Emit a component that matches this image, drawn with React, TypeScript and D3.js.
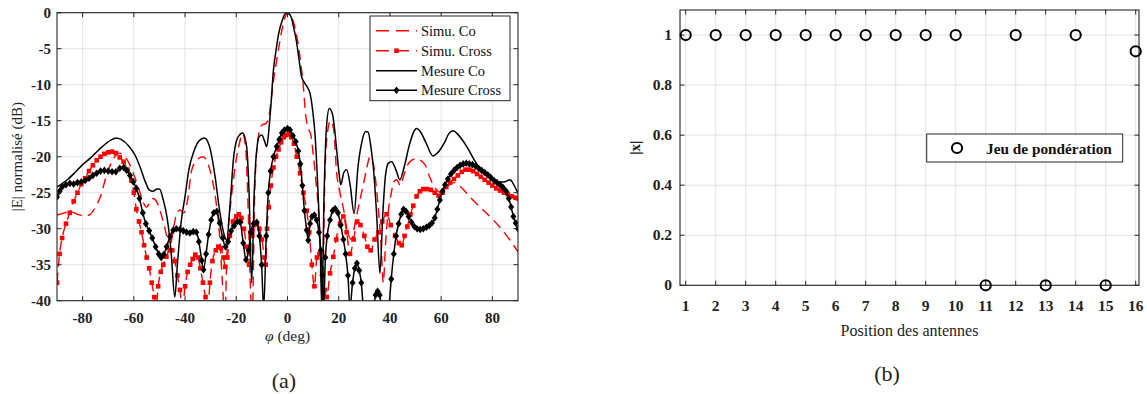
import React from 'react';
import * as d3 from 'd3';

// ---------- Data : panel (a) ----------
const phiTicks = [-80, -60, -40, -20, 0, 20, 40, 60, 80];
const dbTicks = [0, -5, -10, -15, -20, -25, -30, -35, -40];
const legendLabels = ['Simu. Co', 'Simu. Cross', 'Mesure Co', 'Mesure Cross'];

const simuCo: [number, number][] = [
  [-90, -28.1], [-87, -27.8], [-85, -27.6], [-82, -28], [-79, -28.2], [-77, -28], [-75, -27], [-73, -25.5],
  [-71, -23], [-69, -21], [-67, -19.8], [-65.5, -19.5], [-64, -19.8], [-62, -20.8], [-60, -22.5], [-58, -24.5],
  [-56.5, -26.2], [-55, -27], [-53.5, -26.2], [-52.5, -25.8], [-51, -26.3], [-49.5, -27.8], [-47.5, -30.5],
  [-46, -33], [-45, -31], [-43.5, -28.2], [-42, -27.4], [-40.5, -27.8], [-39, -26], [-37.5, -22], [-35.5, -20.5],
  [-33, -20], [-31, -21], [-29.5, -23], [-28, -26], [-26.5, -31], [-25.5, -37], [-24.5, -42], [-23.5, -32],
  [-22, -26], [-20.5, -21.5], [-19, -18.5], [-17.5, -16.8], [-16.3, -19], [-15.3, -28], [-14.5, -38], [-13.8, -43],
  [-12.8, -25], [-11.5, -17.5], [-10, -15.6], [-8.5, -15.4], [-7.5, -14.8], [-6.5, -12.5], [-5.5, -9.5],
  [-4.2, -6.6], [-3, -4], [-1.5, -1.3], [0.3, 0], [1.5, -0.5], [3, -2.2], [4.2, -4.5], [5.2, -7], [6.2, -10.3],
  [7, -13.9], [8, -16], [9, -16.8], [10, -19.5], [11, -23], [12, -27], [13, -34], [13.7, -43], [14.5, -24],
  [15.5, -17], [16.8, -15], [18, -16.2], [19.2, -22.3], [20.5, -25], [22, -27.5], [23.5, -30.5], [25, -31.5],
  [26.5, -29], [28.3, -26], [30, -23.2], [31, -21.5], [32.2, -20], [33.5, -21], [34.8, -24.6], [35.5, -27.4],
  [36.5, -32], [37.4, -37.5], [38.3, -32], [39.2, -28], [40.3, -25.5], [41.5, -23.5], [42.7, -23.2], [44, -24],
  [45.5, -22.5], [47.5, -20.8], [50, -20.3], [52, -20.5], [54, -21.3], [55.5, -22.8], [57, -24], [58.5, -24.7],
  [60, -25], [61.5, -24.5], [63.5, -23.8], [65.5, -23.6], [68, -24.3], [71.3, -25.6], [75.2, -27], [80.4, -28.8],
  [86.9, -31.6], [90, -33.2],
];

const simuCross: [number, number][] = [
  [-90, -37.5], [-89, -33.5], [-88, -31.3], [-86.5, -29.3], [-85, -27.8], [-83.5, -26.2], [-82, -25], [-80.5, -23.8],
  [-79, -23], [-77.5, -22], [-76, -21.2], [-74.5, -20.5], [-73, -20], [-71.5, -19.6], [-70, -19.4], [-68.5, -19.3],
  [-67, -19.5], [-65.5, -20.1], [-64, -20.7], [-62.5, -21.8], [-61, -23.3], [-60, -25], [-59, -27.3], [-58, -29],
  [-57, -30.5], [-56, -32.3], [-55, -34], [-54, -35.5], [-53, -37.5], [-52, -39.5], [-51.3, -41], [-50.5, -38],
  [-49.5, -36], [-48.5, -35], [-47.3, -33.9], [-46, -33], [-45, -33], [-44, -34.5], [-43, -36.5], [-42, -38.5],
  [-41, -41], [-40, -38], [-39, -36], [-38, -35], [-37, -34.2], [-36, -33.6], [-35, -34], [-34, -35.5], [-33, -37.5],
  [-32, -39.5], [-31, -41], [-30.3, -37.5], [-29.3, -34.5], [-28, -33], [-27, -32.5], [-26, -32.7], [-25, -34],
  [-24.3, -35.3], [-23.5, -34], [-22.5, -31], [-21.3, -29], [-20, -28.3], [-19, -28], [-18, -28.5], [-17, -30],
  [-16, -32.5], [-15, -35], [-14, -31], [-13, -29.5], [-12, -29.3], [-11, -30], [-10, -31.5], [-9, -34], [-8.5, -35],
  [-8, -30], [-7.3, -27], [-6.5, -24], [-5.5, -21.5], [-4.5, -20], [-3.5, -19], [-2.5, -18], [-1.5, -17.3],
  [-0.5, -17], [0.5, -16.9], [1.5, -17.3], [2.5, -18.2], [3.6, -20], [4.9, -22.3], [6.2, -25], [7.5, -27.5],
  [8.5, -30.5], [9.5, -35], [10.5, -38], [11.5, -34], [12.5, -33.5], [13.5, -36], [14.5, -38.5], [15.3, -39.5],
  [16.6, -36.2], [17.9, -33.9], [19, -31.5], [20.5, -29.3], [21.8, -28.3], [23.1, -30.5], [24.4, -33.5],
  [25.8, -31.5], [27.2, -29], [28.5, -29.5], [30, -31], [31.2, -32.5], [32.5, -33], [34, -31.5], [35.5, -30.5],
  [37, -29], [38.7, -28], [40.3, -29.5], [42, -31], [43.5, -32], [44.6, -32.3], [45.7, -31], [46.8, -29.7],
  [48, -28], [49.1, -26.8], [50.4, -25.5], [51.7, -24.8], [53, -24.5], [54.5, -24.5], [56, -24.6], [57.5, -25],
  [59, -25.4], [60.5, -25], [62, -24.2], [63.5, -23.6], [65, -23.1], [66.5, -22.6], [68, -22.1], [69.5, -21.8],
  [71, -21.8], [72.5, -22], [74, -22.4], [75.5, -22.8], [77, -23.2], [78.5, -23.6], [80, -24], [81.5, -24.4],
  [83, -24.7], [84.5, -25], [86, -25.2], [87.5, -25.5], [89, -25.7], [90, -25.8],
];

const mesureCo: [number, number][] = [
  [-90, -24.2], [-86, -23.2], [-83, -22.2], [-80, -21.1], [-77, -20.2], [-75, -19.5], [-72, -18.5], [-69, -17.7],
  [-67, -17.4], [-65, -17.6], [-62, -18.5], [-59.5, -19.8], [-57.5, -21.5], [-55.5, -23.5], [-54, -24.6],
  [-52.5, -24.8], [-51, -24.5], [-50, -24.5], [-48.5, -26], [-47, -28.5], [-45.5, -33], [-44, -39.5], [-43, -35],
  [-41.5, -29], [-40, -25.5], [-38.5, -21.8], [-36.5, -19.2], [-34.5, -17.8], [-32.5, -17.4], [-30.5, -18.5],
  [-28.3, -22.7], [-26.5, -27.5], [-25, -30.5], [-23.7, -31.6], [-22.5, -27], [-21, -20], [-19.5, -17.4],
  [-17.5, -16.7], [-16, -18.5], [-15, -25], [-14, -37.5], [-13, -25], [-12, -19], [-11, -17.2], [-10, -17],
  [-9, -17.8], [-8.1, -18.6], [-7.2, -16], [-6.5, -13], [-5.5, -8], [-4.5, -5.3], [-3.5, -3], [-2, -1], [-0.5, 0],
  [1, -0.3], [2.5, -2.2], [3.6, -4.2], [4.5, -6.5], [5.5, -8.9], [6.8, -9.8], [8, -10.5], [8.8, -11.2],
  [9.8, -13.5], [10.7, -16.7], [11.8, -24], [12.8, -33], [13.4, -41], [14.3, -25], [15.2, -16], [16.3, -13.3],
  [17.5, -14], [18.5, -16.5], [19.2, -19.1], [20.2, -22.5], [20.8, -23.9], [22, -22.2], [23.1, -21.8], [24.5, -24],
  [26, -27.9], [27.5, -21.5], [29, -18], [30.5, -16.5], [31.5, -16.6], [32.5, -18.5], [33.5, -21.4], [34.8, -28],
  [36.1, -36.2], [37.2, -28], [38.3, -22.5], [39.4, -20.9], [40.7, -20.7], [42.3, -21.8], [43.9, -23.2],
  [45.5, -21.5], [47.5, -18.5], [49, -16.8], [50.4, -16.1], [52, -16.6], [54, -18], [56.8, -19.9], [58.5, -19.5],
  [61.5, -17.9], [63, -16.8], [64.7, -16.4], [66.5, -16.9], [70, -18.6], [73, -20.5], [76.5, -22.3], [79, -23],
  [81.7, -23.5], [84.5, -23.5], [86.9, -23.2], [88.5, -24], [90, -25.1],
];

const mesureCross: [number, number][] = [
  [-90, -25.6], [-89, -24.8], [-88, -24.2], [-86.5, -23.9], [-85, -23.7], [-83.5, -23.8], [-82, -23.6],
  [-80.5, -23.5], [-79, -23.3], [-77.5, -23], [-76, -22.6], [-74.5, -22.3], [-73, -22], [-71.5, -21.9], [-70, -22],
  [-68.5, -22.1], [-67, -22.1], [-65.5, -21.6], [-64, -21.5], [-62.8, -21.9], [-61.5, -22.6], [-60.2, -23.5],
  [-59, -24.4], [-57.8, -25.8], [-56.5, -27.8], [-55.3, -29.3], [-54, -30.3], [-52.8, -31.3], [-51.5, -32.5],
  [-50.3, -33.5], [-49.3, -34], [-48.3, -33.6], [-47.2, -32.5], [-45.9, -31.1], [-44.6, -30.2], [-43.4, -30],
  [-42, -30.1], [-40.7, -30.3], [-39.4, -30.5], [-38.1, -30.6], [-36.8, -30.4], [-35.6, -30.5], [-34.6, -31.8],
  [-33.5, -34.4], [-32.8, -35.7], [-31.8, -33.5], [-30.8, -30.8], [-29.8, -28.8], [-28.8, -27.8], [-27.6, -27.6],
  [-26.5, -29.2], [-25.3, -31.3], [-24.2, -32.5], [-23.2, -31.8], [-22, -30.3], [-20.8, -29.6], [-19.6, -29],
  [-18.5, -29.1], [-17.3, -32], [-16.2, -34.3], [-15.2, -33], [-14.3, -30.5], [-13.2, -29.3], [-12, -29.1],
  [-11, -31], [-10.1, -35], [-9.3, -41], [-8.3, -31], [-7.5, -25], [-6.6, -22], [-5.5, -20], [-4.2, -18.6],
  [-3.2, -17.6], [-2.2, -16.7], [-1.2, -16.3], [0, -16.1], [1, -16.3], [2.1, -17.1], [3.2, -17.9], [4.2, -19.2],
  [5, -21], [5.8, -24], [6.6, -27.5], [7.5, -30.2], [8.1, -31.6], [8.8, -29.3], [9.6, -28.3], [10.5, -28.1],
  [11.4, -28.8], [12.3, -30.5], [13, -33], [13.6, -36.5], [14.1, -41], [14.8, -34], [15.5, -31], [16.6, -28.8],
  [17.6, -27.5], [18.6, -27.2], [19.7, -27.8], [20.8, -29.5], [21.8, -31.5], [22.7, -33.5], [23.6, -36.5],
  [24.4, -41], [25.4, -37.5], [26.3, -35.5], [27.1, -34.8], [28, -35.8], [28.8, -37.5], [29.6, -41], [31.5, -46],
  [33.6, -41], [34.4, -39.2], [35.2, -38.7], [36, -39.2], [36.7, -41], [38.2, -46], [39.6, -41], [40.5, -37],
  [41.5, -33.5], [42.4, -31], [43.4, -29.3], [44.4, -28], [45.3, -27.3], [46.3, -27.6], [47.3, -28.3],
  [48.4, -29.1], [49.5, -29.7], [50.6, -30], [51.8, -30.1], [53, -30], [54.2, -29.8], [55.3, -29.6], [56.4, -29.2],
  [57.5, -28.5], [58.5, -27.3], [59.5, -26], [60.5, -24.8], [61.5, -23.9], [62.6, -23.1], [63.8, -22.4],
  [65, -21.9], [66.2, -21.5], [67.4, -21.2], [68.6, -21], [69.8, -20.9], [71, -21], [72.2, -21.1], [73.4, -21.3],
  [74.6, -21.6], [75.8, -21.9], [77, -22.2], [78.2, -22.5], [79.4, -22.9], [80.6, -23.3], [81.8, -23.6],
  [83, -23.9], [84.2, -24.3], [85.4, -24.8], [86.4, -25.8], [87.3, -27], [88.2, -28.3], [89.1, -29.2], [90, -30],
];

// ---------- Data : panel (b) ----------
const positions = [1, 2, 3, 4, 5, 6, 7, 8, 9, 10, 11, 12, 13, 14, 15, 16];
const weights = [1, 1, 1, 1, 1, 1, 1, 1, 1, 1, 0, 1, 0, 1, 0, 0.935];
const weightTicks = [0, 0.2, 0.4, 0.6, 0.8, 1];
const weightLegend = 'Jeu de pondération';

const SERIF = '"Liberation Serif", "Times New Roman", serif';
const AX = '#262626';
const GRID = '#e3e3e3';
const RED = '#ff0000';

const diamond = 'M0,-3.8L3,0L0,3.8L-3,0Z';

function PanelA() {
  const x = d3.scaleLinear().domain([-90, 90]).range([57, 518]);
  const y = d3.scaleLinear().domain([-40, 0]).range([300.7, 12.7]);
  const [x0, x1] = x.range();
  const [y0, y1] = y.range();
  const line = d3
    .line<[number, number]>()
    .x((d) => x(d[0]))
    .y((d) => y(d[1]))
    .curve(d3.curveMonotoneX);
  const inRange = (d: [number, number]) => d[1] >= -40 && d[1] <= 0;
  const lx0 = 376;
  const lx1 = 417;
  const ly = [30.7, 50.7, 70.7, 90.2];
  return (
    <g>
      <defs>
        <clipPath id="clipA">
          <rect x={x0} y={y1} width={x1 - x0} height={y0 - y1} />
        </clipPath>
      </defs>
      <rect x={x0} y={y1} width={x1 - x0} height={y0 - y1} fill="#fff" />
      {phiTicks.map((t) => (
        <line key={'gx' + t} x1={x(t)} x2={x(t)} y1={y1} y2={y0} stroke={GRID} strokeWidth={1} />
      ))}
      {dbTicks.map((t) => (
        <line key={'gy' + t} x1={x0} x2={x1} y1={y(t)} y2={y(t)} stroke={GRID} strokeWidth={1} />
      ))}
      <g clipPath="url(#clipA)">
        <path d={line(simuCo) || ''} fill="none" stroke={RED} strokeWidth={1.4} strokeDasharray="10,6" />
        <path d={line(simuCross) || ''} fill="none" stroke={RED} strokeWidth={1.4} strokeDasharray="10,6" />
        {simuCross.filter(inRange).map((d, i) => (
          <rect key={'sq' + i} x={x(d[0]) - 2.3} y={y(d[1]) - 2.3} width={4.6} height={4.6} fill={RED} />
        ))}
        <path d={line(mesureCo) || ''} fill="none" stroke="#000" strokeWidth={1.5} />
        <path d={line(mesureCross) || ''} fill="none" stroke="#000" strokeWidth={1.5} />
        {mesureCross.filter(inRange).map((d, i) => (
          <path key={'dm' + i} d={diamond} transform={`translate(${x(d[0])},${y(d[1])})`} fill="#000" />
        ))}
      </g>
      {/* axes box */}
      <rect x={x0} y={y1} width={x1 - x0} height={y0 - y1} fill="none" stroke={AX} strokeWidth={1.1} />
      {phiTicks.map((t) => (
        <g key={'tx' + t}>
          <line x1={x(t)} x2={x(t)} y1={y0} y2={y0 - 4.5} stroke={AX} />
          <line x1={x(t)} x2={x(t)} y1={y1} y2={y1 + 4.5} stroke={AX} />
          <text x={x(t)} y={y0 + 22} textAnchor="middle" fontFamily={SERIF} fontWeight="bold" fontSize={15} fill="#222">
            {String(t)}
          </text>
        </g>
      ))}
      {dbTicks.map((t) => (
        <g key={'ty' + t}>
          <line x1={x0} x2={x0 + 4.5} y1={y(t)} y2={y(t)} stroke={AX} />
          <line x1={x1} x2={x1 - 4.5} y1={y(t)} y2={y(t)} stroke={AX} />
          <text x={x0 - 6} y={y(t) + 5} textAnchor="end" fontFamily={SERIF} fontWeight="bold" fontSize={15} fill="#222">
            {String(t)}
          </text>
        </g>
      ))}
      <text x={(x0 + x1) / 2} y={341} textAnchor="middle" fontFamily={SERIF} fontSize={15.5} fill="#222">
        <tspan fontStyle="italic">φ</tspan> (deg)
      </text>
      <text transform={`translate(22,${(y0 + y1) / 2}) rotate(-90)`} textAnchor="middle" fontFamily={SERIF} fontSize={15} fill="#222">
        |E| normalisé (dB)
      </text>
      <text x={284} y={388} textAnchor="middle" fontFamily={SERIF} fontSize={22} fill="#222">
        (a)
      </text>
      {/* legend */}
      <rect x={370} y={16} width={140} height={84.7} fill="#fff" stroke={AX} strokeWidth={1} />
      <line x1={lx0} x2={lx1} y1={ly[0]} y2={ly[0]} stroke={RED} strokeWidth={1.4} strokeDasharray="13,7" />
      <line x1={lx0} x2={lx1} y1={ly[1]} y2={ly[1]} stroke={RED} strokeWidth={1.4} strokeDasharray="13,7" />
      <rect x={(lx0 + lx1) / 2 - 2.3} y={ly[1] - 2.3} width={4.6} height={4.6} fill={RED} />
      <line x1={lx0} x2={lx1} y1={ly[2]} y2={ly[2]} stroke="#000" strokeWidth={1.5} />
      <line x1={lx0} x2={lx1} y1={ly[3]} y2={ly[3]} stroke="#000" strokeWidth={1.5} />
      <path d={diamond} transform={`translate(${(lx0 + lx1) / 2},${ly[3]})`} fill="#000" />
      {legendLabels.map((s, i) => (
        <text key={s} x={421} y={ly[i] + 5} fontFamily={SERIF} fontSize={14.5} fill="#111">
          {s}
        </text>
      ))}
    </g>
  );
}

function PanelB() {
  const x = d3.scaleLinear().domain([0.81, 16.11]).range([680, 1139]);
  const y = d3.scaleLinear().domain([0, 1.1]).range([285.3, 10]);
  const [x0, x1] = x.range();
  const [y0, y1] = y.range();
  return (
    <g>
      {positions.map((t) => (
        <line key={'gx' + t} x1={x(t)} x2={x(t)} y1={y1} y2={y0} stroke={GRID} strokeWidth={1} />
      ))}
      {weightTicks.map((t) => (
        <line key={'gy' + t} x1={x0} x2={x1} y1={y(t)} y2={y(t)} stroke={GRID} strokeWidth={1} />
      ))}
      <rect x={x0} y={y1} width={x1 - x0} height={y0 - y1} fill="none" stroke={AX} strokeWidth={1.1} />
      {positions.map((t) => (
        <g key={'tx' + t}>
          <line x1={x(t)} x2={x(t)} y1={y0} y2={y0 - 4.5} stroke={AX} />
          <line x1={x(t)} x2={x(t)} y1={y1} y2={y1 + 4.5} stroke={AX} />
          <text x={x(t)} y={y0 + 26} textAnchor="middle" fontFamily={SERIF} fontWeight="bold" fontSize={15.5} fill="#222">
            {String(t)}
          </text>
        </g>
      ))}
      {weightTicks.map((t) => (
        <g key={'ty' + t}>
          <line x1={x0} x2={x0 + 4.5} y1={y(t)} y2={y(t)} stroke={AX} />
          <line x1={x1} x2={x1 - 4.5} y1={y(t)} y2={y(t)} stroke={AX} />
          <text x={x0 - 8} y={y(t) + 5} textAnchor="end" fontFamily={SERIF} fontWeight="bold" fontSize={15.5} fill="#222">
            {String(t)}
          </text>
        </g>
      ))}
      {positions.map((p, i) => (
        <circle key={'c' + p} cx={x(p)} cy={y(weights[i])} r={5.1} fill="none" stroke="#000" strokeWidth={2} />
      ))}
      <text x={(x0 + x1) / 2} y={336} textAnchor="middle" fontFamily={SERIF} fontSize={16} fill="#222">
        Position des antennes
      </text>
      <text transform={`translate(640,${(y0 + y1) / 2}) rotate(-90)`} textAnchor="middle" fontFamily={SERIF} fontWeight="bold" fontSize={15} fill="#222">
        |x|
      </text>
      <text x={887} y={381} textAnchor="middle" fontFamily={SERIF} fontSize={22} fill="#222">
        (b)
      </text>
      <rect x={926.7} y={134} width={196} height={28} fill="#fff" stroke={AX} strokeWidth={1} />
      <circle cx={957} cy={148} r={5.1} fill="none" stroke="#000" strokeWidth={2} />
      <text x={986} y={153.5} fontFamily={SERIF} fontWeight="bold" fontSize={15.3} fill="#111">
        {weightLegend}
      </text>
    </g>
  );
}

export default function App() {
  return (
    <svg
      width={1147}
      height={394}
      viewBox="0 0 1147 394"
      style={{ position: 'absolute', left: 0, top: 0, background: '#fff' }}
    >
      <rect x={0} y={0} width={1147} height={394} fill="#fff" />
      <PanelA />
      <PanelB />
    </svg>
  );
}
